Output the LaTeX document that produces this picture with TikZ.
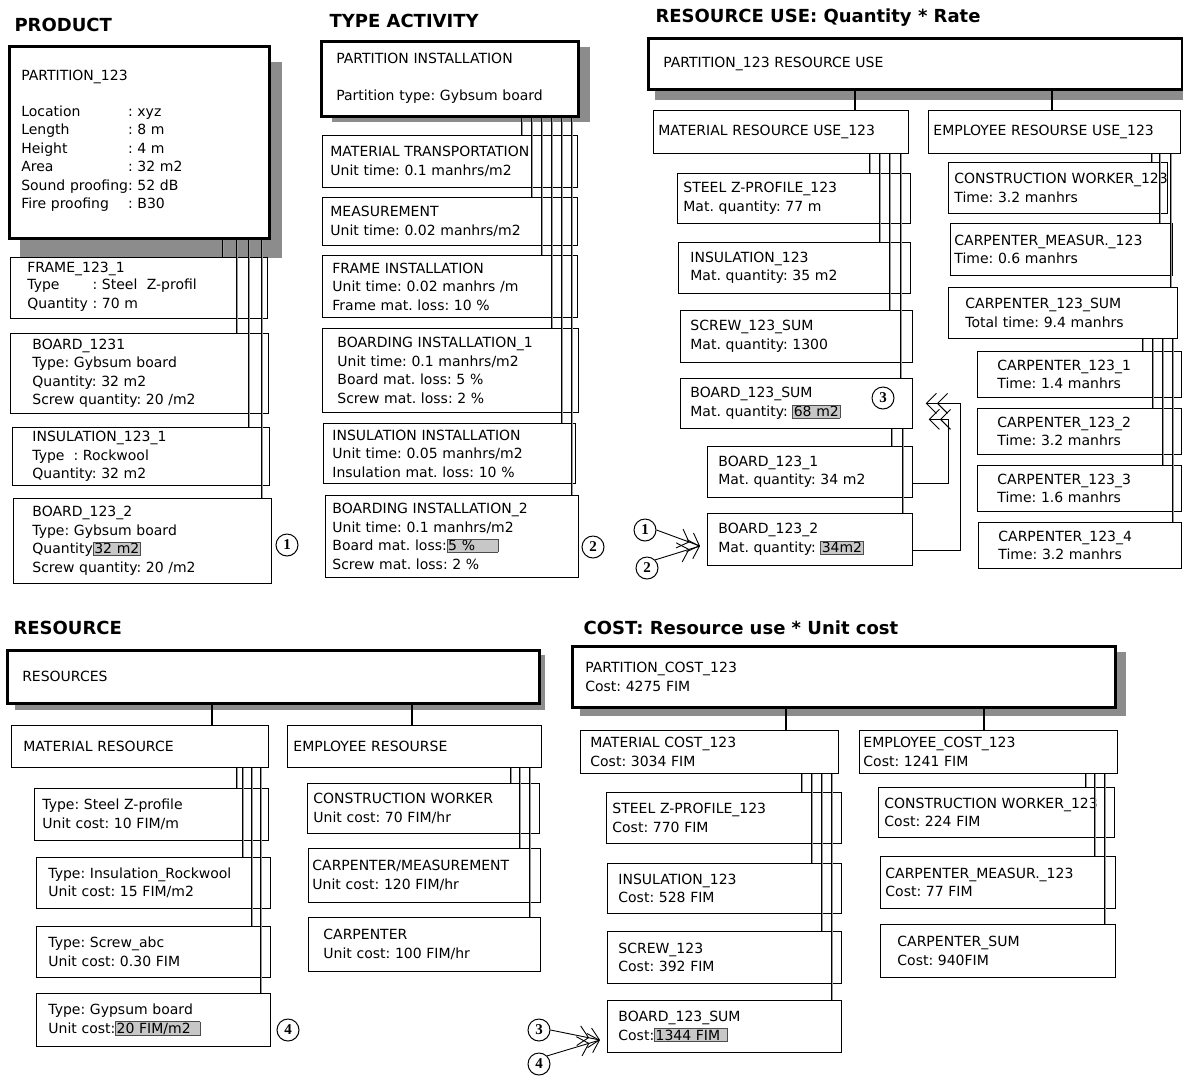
\documentclass[tikz,border=0pt]{standalone}
\usepackage{fontspec}
\setmainfont{DejaVu Sans}
\newfontfamily\tagfont{Liberation Serif}
\usetikzlibrary{arrows.meta,backgrounds}
\frenchspacing

\newcommand\hlval[1]{{\setlength\fboxsep{1pt}\fcolorbox{black!70}{black!22}{#1}}}

\begin{document}
\begin{tikzpicture}[
  x=1pt, y=-1pt,
  box/.style={draw, fill=white, anchor=north west, align=left, inner sep=0pt, line width=0.8pt,
    font=\fontsize{14}{18.5}\selectfont},
  topbox/.style={box, line width=2.5pt},
  sz/.style n args={3}{minimum width=#1, minimum height=#2, text width=#3},
  head/.style={anchor=west, font=\fontsize{18}{20}\selectfont\bfseries},
  shd/.style={fill=black!45},
  link/.style={line width=0.8pt, double=black!40, double distance=1pt},
  stem/.style={line width=1.3pt},
  tag/.style={circle, draw, line width=1pt, inner sep=0pt, minimum size=22pt,
    font=\fontsize{15}{15}\selectfont\tagfont\bfseries},
  feed/.style={line width=0.9pt, -{Straight Barb[length=10pt,width=20pt]Straight Barb[length=10pt,width=20pt]}}
]
\useasboundingbox (0,0) rectangle (1183,1077);

% headings
\node[head] (hprod) at (11,25) {PRODUCT};
\node[head] (hta) at (326,21) {TYPE ACTIVITY};
\node[head] (hru) at (652,18) {RESOURCE USE: Quantity * Rate};
\node[head] (hres) at (10,628) {RESOURCE};
\node[head] (hcost) at (580,628) {COST: Resource use * Unit cost};

% product
\node[topbox, sz={260pt}{192pt}{236pt}] (part) at (8,45) {PARTITION\_123\\[18.5pt]
  \begin{tabular}{@{}l@{}l}
  Location&: xyz\\ Length&: 8 m\\ Height&: 4 m\\ Area&: 32 m2\\
  Sound proofing&: 52 dB\\ Fire proofing&: B30
  \end{tabular}};
\node[box, sz={257pt}{61pt}{223pt}] (frame) at (10,257) {FRAME\_123\_1\\
  \begin{tabular}{@{}l@{}l}
  Type&\ : Steel\ \ Z-profil\\ Quantity&\ : 70 m
  \end{tabular}};
\node[box, sz={258pt}{80pt}{214pt}] (board1) at (10,333)
  {BOARD\_1231\\ Type: Gybsum board\\ Quantity: 32 m2\\ Screw quantity: 20 /m2};
\node[box, sz={257pt}{58pt}{217pt}] (insul1) at (12,427)
  {INSULATION\_123\_1\\ Type\hspace{9pt}: Rockwool\\ Quantity: 32 m2};
\node[box, sz={258pt}{85pt}{220pt}] (board2) at (13,498)
  {BOARD\_123\_2\\ Type: Gybsum board\\ Quantity\hlval{32 m2}\\ Screw quantity: 20 /m2};

% type activity
\node[topbox, sz={257pt}{75pt}{227pt}] (inst) at (320,40)
  {PARTITION INSTALLATION\\[18.5pt] Partition type: Gybsum board};
\node[box, sz={255pt}{52pt}{239pt}] (mtrans) at (322,135)
  {MATERIAL TRANSPORTATION\\ Unit time: 0.1 manhrs/m2};
\node[box, sz={255pt}{48pt}{239pt}] (meas) at (322,197)
  {MEASUREMENT\\ Unit time: 0.02 manhrs/m2};
\node[box, sz={255pt}{62pt}{235pt}] (frinst) at (322,255)
  {FRAME INSTALLATION\\ Unit time: 0.02 manhrs /m\\ Frame mat. loss: 10 \%};
\node[box, sz={256pt}{84pt}{226pt}] (bi1) at (322,328)
  {BOARDING INSTALLATION\_1\\ Unit time: 0.1 manhrs/m2\\ Board mat. loss: 5 \%\\ Screw mat. loss: 2 \%};
\node[box, sz={252pt}{60pt}{234pt}] (insinst) at (323,423)
  {INSULATION INSTALLATION\\ Unit time: 0.05 manhrs/m2\\ Insulation mat. loss: 10 \%};
\node[box, sz={253pt}{82pt}{239pt}] (bi2) at (325,495)
  {BOARDING INSTALLATION\_2\\ Unit time: 0.1 manhrs/m2\\ Board mat. loss:\hlval{5 \%\hspace{22pt}}\\ Screw mat. loss: 2 \%};

% resource use
\node[topbox, sz={534pt}{51pt}{504pt}] (ru) at (647,37) {PARTITION\_123 RESOURCE USE\\[-6pt]};
\node[box, sz={255pt}{43pt}{245pt}] (mru) at (653,110) {MATERIAL RESOURCE USE\_123};
\node[box, sz={252pt}{43pt}{242pt}] (eru) at (928,110) {EMPLOYEE RESOURSE USE\_123};
\node[box, sz={233pt}{50pt}{221pt}] (steel) at (677,173) {STEEL Z-PROFILE\_123\\ Mat. quantity: 77 m};
\node[box, sz={232pt}{51pt}{208pt}] (insu) at (678,242) {INSULATION\_123\\ Mat. quantity: 35 m2};
\node[box, sz={232pt}{52pt}{212pt}] (screw) at (680,310) {SCREW\_123\_SUM\\ Mat. quantity: 1300};
\node[box, sz={232pt}{50pt}{212pt}] (bsum) at (680,378) {BOARD\_123\_SUM\\ Mat. quantity: \hlval{68 m2}};
\node[box, sz={205pt}{51pt}{183pt}] (b1) at (707,446) {BOARD\_123\_1\\ Mat. quantity: 34 m2};
\node[box, sz={205pt}{52pt}{183pt}] (b2) at (707,513) {BOARD\_123\_2\\ Mat. quantity: \hlval{34m2}};
\node[box, sz={219pt}{51pt}{207pt}] (cw) at (948,162) {\mbox{CONSTRUCTION WORKER\_123}\\ Time: 3.2 manhrs};
\node[box, sz={222pt}{52pt}{214pt}] (cm) at (950,223) {CARPENTER\_MEASUR.\_123\\ Time: 0.6 manhrs};
\node[box, sz={229pt}{51pt}{195pt}] (csum) at (948,287) {CARPENTER\_123\_SUM\\ Total time: 9.4 manhrs};
\node[box, sz={204pt}{46pt}{164pt}] (c1) at (977,351) {CARPENTER\_123\_1\\ Time: 1.4 manhrs};
\node[box, sz={204pt}{46pt}{164pt}] (c2) at (977,408) {CARPENTER\_123\_2\\ Time: 3.2 manhrs};
\node[box, sz={204pt}{46pt}{164pt}] (c3) at (977,465) {CARPENTER\_123\_3\\ Time: 1.6 manhrs};
\node[box, sz={203pt}{46pt}{163pt}] (c4) at (978,522) {CARPENTER\_123\_4\\ Time: 3.2 manhrs};

% resource
\node[topbox, sz={532pt}{53pt}{502pt}] (res) at (6,649) {RESOURCES};
\node[box, sz={257pt}{42pt}{233pt}] (mres) at (11,725) {MATERIAL RESOURCE};
\node[box, sz={254pt}{42pt}{242pt}] (eres) at (287,725) {EMPLOYEE RESOURSE};
\node[box, sz={234pt}{52pt}{218pt}] (rsteel) at (34,788) {Type: Steel Z-profile\\ Unit cost: 10 FIM/m};
\node[box, sz={234pt}{51pt}{210pt}] (rins) at (36,857) {Type: Insulation\_Rockwool\\ Unit cost: 15 FIM/m2};
\node[box, sz={234pt}{51pt}{210pt}] (rscrew) at (36,926) {Type: Screw\_abc\\ Unit cost: 0.30 FIM};
\node[box, sz={234pt}{53pt}{210pt}] (rgyp) at (36,993) {Type: Gypsum board\\ Unit cost:\hlval{20 FIM/m2\hspace{8pt}}};
\node[box, sz={232pt}{50pt}{220pt}] (rcw) at (307,783) {CONSTRUCTION WORKER\\ Unit cost: 70 FIM/hr};
\node[box, sz={232pt}{54pt}{224pt}] (rcm) at (308,848) {CARPENTER/MEASUREMENT\\ Unit cost: 120 FIM/hr};
\node[box, sz={232pt}{54pt}{202pt}] (rcarp) at (308,917) {CARPENTER\\ Unit cost: 100 FIM/hr};

% cost
\node[topbox, sz={543pt}{61pt}{517pt}] (cost) at (571,645) {PARTITION\_COST\_123\\ Cost: 4275 FIM};
\node[box, sz={258pt}{43pt}{238pt}] (mcost) at (580,730) {MATERIAL COST\_123\\ Cost: 3034 FIM};
\node[box, sz={258pt}{43pt}{250pt}] (ecost) at (859,730) {EMPLOYEE\_COST\_123\\ Cost: 1241 FIM};
\node[box, sz={235pt}{51pt}{223pt}] (csteel) at (606,792) {STEEL Z-PROFILE\_123\\ Cost: 770 FIM};
\node[box, sz={234pt}{50pt}{212pt}] (cins) at (607,863) {INSULATION\_123\\ Cost: 528 FIM};
\node[box, sz={234pt}{52pt}{212pt}] (cscrew) at (607,931) {SCREW\_123\\ Cost: 392 FIM};
\node[box, sz={234pt}{52pt}{212pt}] (cbsum) at (607,1000) {BOARD\_123\_SUM\\ Cost:\hlval{1344 FIM\hspace{6pt}}};
\node[box, sz={236pt}{50pt}{224pt}] (ccw) at (878,787) {CONSTRUCTION WORKER\_123\\ Cost: 224 FIM};
\node[box, sz={235pt}{52pt}{225pt}] (ccm) at (880,856) {CARPENTER\_MEASUR.\_123\\ Cost: 77 FIM};
\node[box, sz={235pt}{53pt}{201pt}] (ccsum) at (880,924) {CARPENTER\_SUM\\ Cost: 940FIM};

% shadows
\begin{scope}[on background layer]
  \fill[shd] ([xshift=12pt,yshift=-17pt]part.north west) rectangle ([xshift=11pt,yshift=-18pt]part.south east);
  \fill[shd] ([xshift=12pt,yshift=-7pt]inst.north west) rectangle ([xshift=10pt,yshift=-4pt]inst.south east);
  \fill[shd] ([xshift=8pt,yshift=-9pt]ru.north west) rectangle ([xshift=2pt,yshift=-9pt]ru.south east);
  \fill[shd] ([xshift=9pt,yshift=-6pt]res.north west) rectangle ([xshift=4pt,yshift=-5pt]res.south east);
  \fill[shd] ([xshift=9pt,yshift=-7pt]cost.north west) rectangle ([xshift=9pt,yshift=-7pt]cost.south east);
\end{scope}

% links
\draw[link] (part.south -| 223,0) -- (frame.north -| 223,0);
\draw[link] (part.south -| 237,0) -- (board1.north -| 237,0);
\draw[link] (part.south -| 249,0) -- (insul1.north -| 249,0);
\draw[link] (part.south -| 262,0) -- (board2.north -| 262,0);

\draw[link] (inst.south -| 522,0) -- (mtrans.north -| 522,0);
\draw[link] (inst.south -| 532,0) -- (meas.north -| 532,0);
\draw[link] (inst.south -| 542,0) -- (frinst.north -| 542,0);
\draw[link] (inst.south -| 552,0) -- (bi1.north -| 552,0);
\draw[link] (inst.south -| 562,0) -- (insinst.north -| 562,0);
\draw[link] (inst.south -| 572,0) -- (bi2.north -| 572,0);

\draw[stem] (ru.south -| 855,0) -- (mru.north -| 855,0);
\draw[stem] (ru.south -| 1052,0) -- (eru.north -| 1052,0);
\draw[link] (mru.south -| 870,0) -- (steel.north -| 870,0);
\draw[link] (mru.south -| 880,0) -- (insu.north -| 880,0);
\draw[link] (mru.south -| 890,0) -- (screw.north -| 890,0);
\draw[link] (mru.south -| 901,0) -- (bsum.north -| 901,0);
\draw[link] (bsum.south -| 892,0) -- (b1.north -| 892,0);
\draw[link] (bsum.south -| 903,0) -- (b2.north -| 903,0);
\draw[link] (eru.south -| 1152,0) -- (cw.north -| 1152,0);
\draw[link] (eru.south -| 1160,0) -- (cm.north -| 1160,0);
\draw[link] (eru.south -| 1171,0) -- (csum.north -| 1171,0);
\draw[link] (csum.south -| 1143,0) -- (c1.north -| 1143,0);
\draw[link] (csum.south -| 1153,0) -- (c2.north -| 1153,0);
\draw[link] (csum.south -| 1163,0) -- (c3.north -| 1163,0);
\draw[link] (csum.south -| 1173,0) -- (c4.north -| 1173,0);

\draw[stem] (res.south -| 212,0) -- (mres.north -| 212,0);
\draw[stem] (res.south -| 412,0) -- (eres.north -| 412,0);
\draw[link] (mres.south -| 237,0) -- (rsteel.north -| 237,0);
\draw[link] (mres.south -| 243,0) -- (rins.north -| 243,0);
\draw[link] (mres.south -| 252,0) -- (rscrew.north -| 252,0);
\draw[link] (mres.south -| 261,0) -- (rgyp.north -| 261,0);
\draw[link] (eres.south -| 511,0) -- (rcw.north -| 511,0);
\draw[link] (eres.south -| 520,0) -- (rcm.north -| 520,0);
\draw[link] (eres.south -| 530,0) -- (rcarp.north -| 530,0);

\draw[stem] (cost.south -| 786,0) -- (mcost.north -| 786,0);
\draw[stem] (cost.south -| 984,0) -- (ecost.north -| 984,0);
\draw[link] (mcost.south -| 802,0) -- (csteel.north -| 802,0);
\draw[link] (mcost.south -| 812,0) -- (cins.north -| 812,0);
\draw[link] (mcost.south -| 822,0) -- (cscrew.north -| 822,0);
\draw[link] (mcost.south -| 832,0) -- (cbsum.north -| 832,0);
\draw[link] (ecost.south -| 1086,0) -- (ccw.north -| 1086,0);
\draw[link] (ecost.south -| 1095,0) -- (ccm.north -| 1095,0);
\draw[link] (ecost.south -| 1105,0) -- (ccsum.north -| 1105,0);

% tags and arrows
\node[tag] (t1a) at (287,545) {1};
\node[tag] (t2a) at (593,547) {2};
\node[tag] (t1b) at (645,530) {1};
\node[tag] (t2b) at (647,568) {2};
\node[tag] (t3a) at (883,398) {3};
\node[tag] (t4a) at (288,1030) {4};
\node[tag] (t3b) at (539,1030) {3};
\node[tag] (t4b) at (539,1064) {4};
\coordinate (bin) at (700,546);
\coordinate (cin) at (600,1040);
\draw[feed] (t1b.east) -- (bin);
\draw[feed] (t2b.north east) -- (bin);
\draw[feed] (t3b.east) -- (cin);
\draw[feed] (t4b.north east) -- (cin);
\draw[feed] ([yshift=-12pt]b1.east) -- ++(36,0) |- ([xshift=16pt,yshift=-16pt]bsum.east);
\draw[feed] ([yshift=-11pt]b2.east) -- ++(48,0) |- ([xshift=13pt]bsum.east);
\end{tikzpicture}
\end{document}
